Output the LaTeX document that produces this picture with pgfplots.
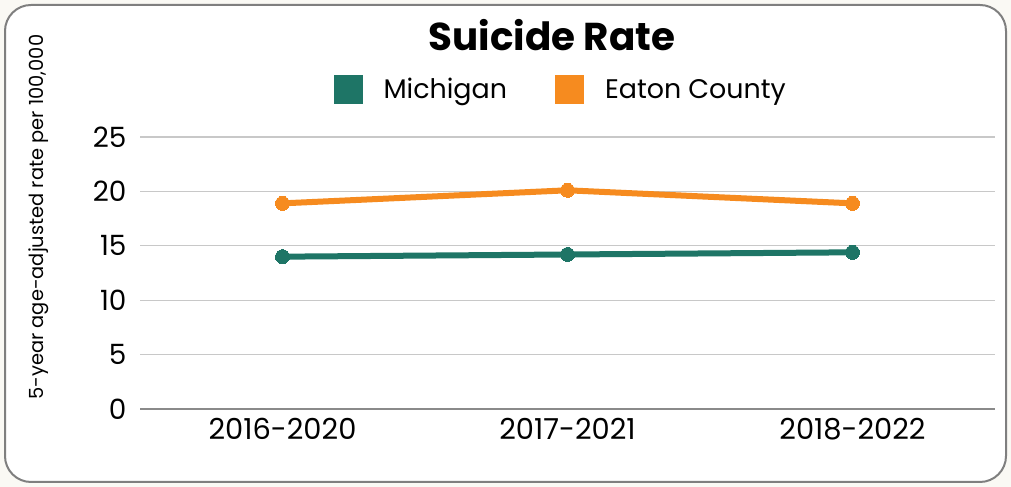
\documentclass[border=0pt]{standalone}
\usepackage{fontspec}
\setmainfont{Poppins}
\usepackage{pgfplots}
\pgfplotsset{compat=1.18}
\definecolor{mgreen}{HTML}{1E7566}
\definecolor{eorange}{HTML}{F68B1F}
\definecolor{bgcream}{HTML}{FAF9F4}
\definecolor{gridgray}{HTML}{C8C8C8}
\definecolor{axgray}{HTML}{8A8A8A}
\definecolor{framegray}{HTML}{7F7F7F}
\begin{document}
\begin{tikzpicture}[x=1bp,y=1bp]
\fill[bgcream] (0,0) rectangle (1011,487);
\draw[framegray, line width=2bp, fill=white, rounded corners=26bp] (5,5) rectangle (1006,482);
\node[font=\fontsize{39}{44}\selectfont\bfseries] at (552,452) {Suicide Rate};
\begin{axis}[
  at={(140bp,78bp)}, anchor=south west,
  scale only axis, width=855bp, height=272bp,
  xmin=-0.5, xmax=2.5, ymin=0, ymax=25,
  xtick=data, xticklabels={2016-2020,2017-2021,2018-2022},
  ytick={0,5,10,15,20,25},
  /pgf/number format/assume math mode=true,
  ticklabel style={font=\fontsize{28}{32}\selectfont, text=black},
  xticklabel style={font=\fontsize{29}{33}\selectfont, yshift=-6bp},
  yticklabel style={xshift=-10bp},
  major tick length=0pt,
  ymajorgrids, grid style={gridgray, line width=1.2bp},
  axis x line*=bottom, axis y line*=left,
  x axis line style={axgray, line width=1.6bp, -},
  y axis line style={draw=none},
  ylabel={5-year age-adjusted rate per 100,000},
  ylabel style={font=\fontsize{19.5}{22}\selectfont, at={(axis description cs:-0.119,0.705)}, anchor=center},
  legend style={at={(axis description cs:0.492,1.175)}, anchor=center, draw=none, fill=none,
    font=\fontsize{27}{32}\selectfont, legend columns=2,
    /tikz/every odd column/.append style={column sep=19bp},
    /tikz/every even column/.append style={column sep=46bp}},
  legend image code/.code={\fill[#1] (-4bp,-11.5bp) rectangle (19bp,11.5bp);},
]
\addplot[mgreen, line width=6bp, mark=*, mark size=7bp, mark options={fill=mgreen, draw=mgreen, line width=0pt}]
  coordinates {(0,14.0) (1,14.2) (2,14.4)};
\addlegendentry{Michigan}
\addplot[eorange, line width=6bp, mark=*, mark size=7bp, mark options={fill=eorange, draw=eorange, line width=0pt}]
  coordinates {(0,18.9) (1,20.1) (2,18.9)};
\addlegendentry{Eaton County}
\end{axis}
\end{tikzpicture}
\end{document}
